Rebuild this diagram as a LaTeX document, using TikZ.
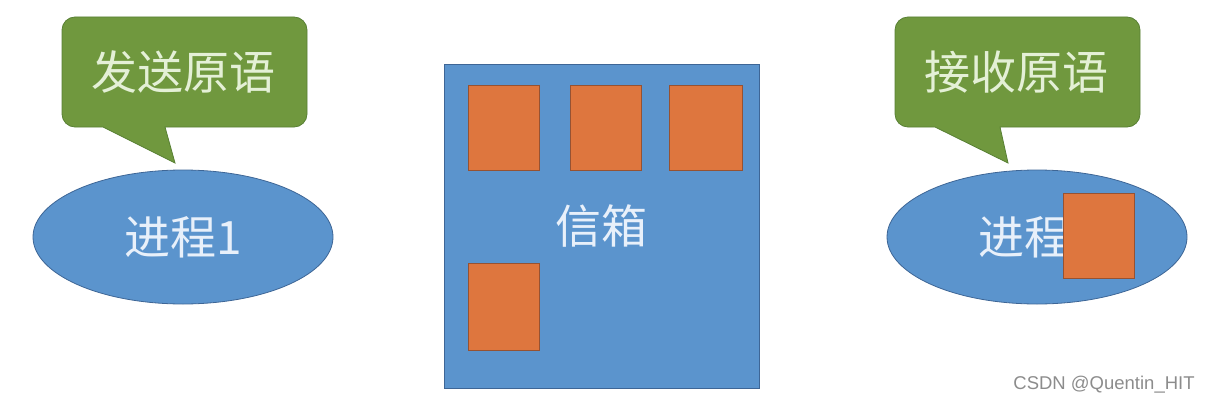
\documentclass[tikz,border=0pt]{standalone}
\usepackage{fontspec}
\newfontfamily\cjk{Noto Sans CJK SC}
\newfontfamily\wmfont{Liberation Sans}
\usetikzlibrary{shapes.geometric}
\definecolor{bubblegreen}{RGB}{112,152,62}
\definecolor{bubbleedge}{RGB}{88,128,52}
\definecolor{bubbletext}{RGB}{228,240,214}
\definecolor{procblue}{RGB}{91,148,205}
\definecolor{procedge}{RGB}{62,102,150}
\definecolor{proctext}{RGB}{232,240,250}
\definecolor{msgorange}{RGB}{222,118,62}
\definecolor{msgedge}{RGB}{150,82,50}

\begin{document}
\begin{tikzpicture}[x=1pt,y=-1pt,
  bubble/.style={fill=bubblegreen,draw=bubbleedge,line width=0.8pt},
  proc/.style={ellipse,fill=procblue,draw=procedge,line width=0.8pt,
    minimum width=300pt,minimum height=134pt,inner sep=0pt},
  msg/.style={rectangle,fill=msgorange,draw=msgedge,line width=0.8pt,
    minimum width=71pt,minimum height=85pt,inner sep=0pt},
  bigtext/.style={font=\cjk\fontsize{46}{50}\selectfont,inner sep=0pt}]
  \useasboundingbox (0,0) rectangle (1206,404);
  % send side
  \draw[bubble] (175,163) -- (103,127) [rounded corners=13pt] -- (62,127)
    -- (62,17) -- (307,17) -- (307,127) [sharp corners] -- (165,127) -- cycle;
  \node[bigtext,text=bubbletext] (send) at (183,72) {发送原语};
  \node[proc,bigtext,text=proctext] (p1) at (183,237) {进程1};
  % mailbox
  \node[draw=procedge,fill=procblue,line width=0.8pt,minimum width=315pt,
    minimum height=324pt,bigtext,text=proctext] (mailbox) at (601.5,226) {信箱};
  \node[msg] (m1) at (504,127.5) {};
  \node[msg] (m2) at (605.5,127.5) {};
  \node[msg,minimum width=73pt] (m3) at (705.5,127.5) {};
  \node[msg,minimum height=87pt] (m4) at (504,306.5) {};
  % receive side
  \draw[bubble] (1008,163) -- (935,127) [rounded corners=13pt] -- (895,127)
    -- (895,17) -- (1140,17) -- (1140,127) [sharp corners] -- (1000,127) -- cycle;
  \node[bigtext,text=bubbletext] (recv) at (1016,72) {接收原语};
  \node[proc] (p2) at (1037,237) {};
  \node[bigtext,text=proctext] (p2text) at (1024,237) {进程};
  \node[msg] (m5) at (1098.5,235.5) {};
  \node[font=\wmfont\fontsize{18.5}{20}\selectfont,text=black!45,inner sep=0pt]
    (mark) at (1104,385) {CSDN @Quentin\_HIT};
\end{tikzpicture}
\end{document}
